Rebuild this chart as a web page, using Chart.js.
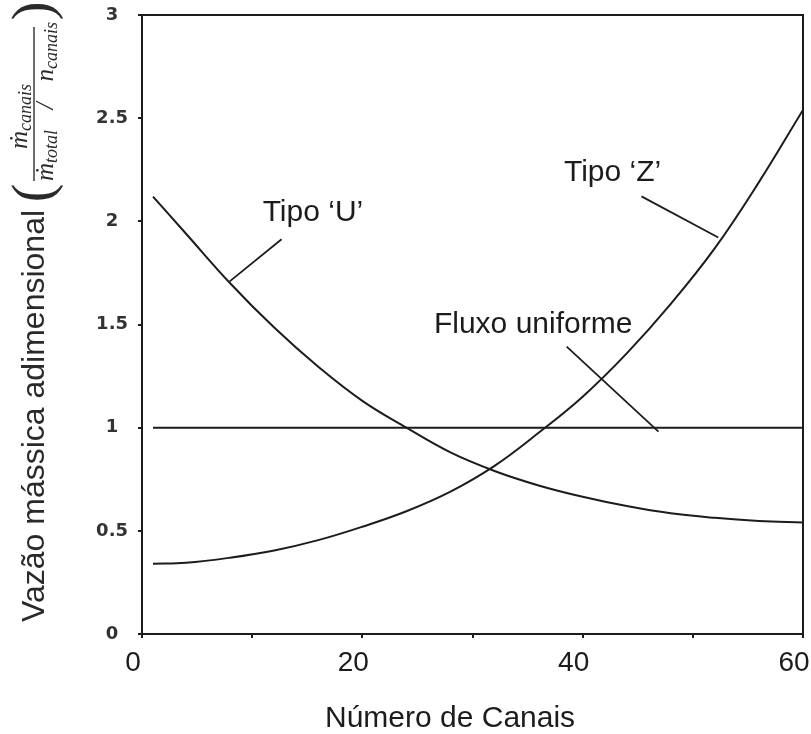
<!DOCTYPE html>
<html>
<head>
<meta charset="utf-8">
<script src="https://cdn.jsdelivr.net/npm/chart.js"></script>
<style>
  body { margin: 0; background: #fff; }
  #wrap { width: 811px; height: 734px; }
</style>
</head>
<body>
<div id="wrap"><canvas id="myChart"></canvas></div>
<script>
  // values
  const canais = [1, 4, 8, 12, 16, 20, 24, 28, 32, 36, 40, 44, 48, 52, 56, 60]
  const tipoU = [2.12, 1.94, 1.70, 1.485, 1.295, 1.13, 1.0, 0.88, 0.79, 0.72, 0.665, 0.62, 0.585, 0.563, 0.548, 0.54]
  const tipoZ = [0.34, 0.345, 0.37, 0.405, 0.455, 0.52, 0.595, 0.69, 0.815, 0.975, 1.15, 1.36, 1.60, 1.87, 2.19, 2.54]
  const uniformeX = [1, 60]
  const uniformeY = [1, 1]

  const xTicks = [0, 10, 20, 30, 40, 50, 60]
  const xLabeled = [0, 20, 40, 60]
  const yTicks = [0, 0.5, 1, 1.5, 2, 2.5, 3]

  // curve labels and their pointer lines (data units)
  const notes = [
    { text: 'Tipo ‘U’', at: [10.95, 2.0], from: [12.67, 1.913], to: [7.96, 1.709] },
    { text: 'Tipo ‘Z’', at: [38.3, 2.194], from: [45.34, 2.121], to: [52.31, 1.922] },
    { text: 'Fluxo uniforme', at: [26.5, 1.461], from: [38.55, 1.393], to: [46.88, 0.981] }
  ]

  const ink = '#1c1c1c'
  const pts = (xs, ys) => xs.map((x, i) => ({ x: x, y: ys[i] }))

  let datasets = [
    { label: 'Tipo U', data: pts(canais, tipoU), tension: 0.4 },
    { label: 'Tipo Z', data: pts(canais, tipoZ), tension: 0.4 },
    { label: 'Fluxo uniforme', data: pts(uniformeX, uniformeY) }
  ]
  notes.forEach(n => datasets.push({
    label: n.text + ' ptr',
    data: [{ x: n.from[0], y: n.from[1] }, { x: n.to[0], y: n.to[1] }],
    borderWidth: 1.8
  }))
  datasets.forEach(d => {
    d.type = 'line'
    d.borderColor = ink
    d.borderWidth = d.borderWidth || 2
    d.pointRadius = 0
    d.fill = false
  })

  const extras = {
    id: 'extras',
    afterDraw(chart) {
      const { ctx, chartArea: a, scales } = chart
      ctx.save()
      // box top and right
      ctx.strokeStyle = ink
      ctx.lineWidth = 2
      ctx.beginPath()
      ctx.moveTo(a.left, a.top)
      ctx.lineTo(a.right, a.top)
      ctx.lineTo(a.right, a.bottom)
      ctx.stroke()

      ctx.fillStyle = ink
      ctx.textBaseline = 'alphabetic'
      ctx.textAlign = 'left'
      ctx.font = '30px "Liberation Sans", Arial, sans-serif'
      notes.forEach(n => ctx.fillText(n.text, scales.x.getPixelForValue(n.at[0]), scales.y.getPixelForValue(n.at[1])))

      // x title
      ctx.fillText('Número de Canais', 325, 727)

      // y title, rotated
      ctx.rotate(-Math.PI / 2)
      ctx.fillStyle = '#2a2a2a'
      ctx.font = '32px "Liberation Sans", Arial, sans-serif'
      ctx.fillText('Vazão mássica adimensional', -622, 44)

      const big = 'italic 25px "Liberation Serif", "DejaVu Serif", serif'
      const small = 'italic 18px "Liberation Serif", "DejaVu Serif", serif'
      // numerator
      ctx.font = big
      ctx.fillText('ṁ', -149, 27)
      let w = ctx.measureText('ṁ').width
      ctx.font = small
      ctx.fillText('canais', -149 + w, 31)
      // denominator
      ctx.font = big
      ctx.fillText('ṁ', -181, 53)
      w = ctx.measureText('ṁ').width
      ctx.font = small
      ctx.fillText('total', -181 + w, 57)
      let endTotal = -181 + w + ctx.measureText('total').width
      let ws = ctx.measureText('canais').width
      ctx.fillText('canais', -22 - ws, 57)
      ctx.font = big
      let wn = ctx.measureText('n').width
      ctx.fillText('n', -22 - ws - wn, 53)
      ctx.textAlign = 'center'
      ctx.fillText('/', (endTotal + (-22 - ws - wn)) / 2, 53)
      // fraction bar
      ctx.lineWidth = 1.3
      ctx.beginPath()
      ctx.moveTo(-181, 34)
      ctx.lineTo(-27, 34)
      ctx.stroke()
      // parentheses
      ctx.font = '56px "Liberation Serif", serif'
      ctx.fillText('(', -193, 51)
      ctx.fillText(')', -11, 51)
      ctx.restore()
    }
  }

  const ctx = document.getElementById('myChart')
  new Chart(ctx, {
    type: 'line',
    data: { datasets: datasets },
    plugins: [extras],
    options: {
      responsive: true,
      maintainAspectRatio: false,
      animation: false,
      layout: { padding: { left: 70, top: 15, right: 8, bottom: 0 } },
      plugins: {
        legend: { display: false },
        tooltip: { enabled: false },
        title: { display: false }
      },
      scales: {
        x: {
          type: 'linear',
          min: 0,
          max: 60,
          afterFit: s => { s.height = 100; s.paddingLeft = 0; s.paddingRight = 0 },
          afterBuildTicks: s => { s.ticks = xTicks.map(v => ({ value: v })) },
          grid: { drawOnChartArea: false, tickLength: 4, color: ink, lineWidth: 2 },
          border: { color: ink, width: 2 },
          ticks: {
            color: ink,
            padding: 8,
            labelOffset: -9,
            maxRotation: 0,
            autoSkip: false,
            font: { family: '"Liberation Sans Narrow", "Liberation Sans", sans-serif', size: 28 },
            callback: v => xLabeled.includes(v) ? String(v) : ''
          }
        },
        y: {
          type: 'linear',
          min: 0,
          max: 3,
          afterFit: s => { s.width = 72; s.paddingTop = 0; s.paddingBottom = 0 },
          afterBuildTicks: s => { s.ticks = yTicks.map(v => ({ value: v })) },
          grid: { drawOnChartArea: false, tickLength: 4, color: ink, lineWidth: 2 },
          border: { color: ink, width: 2 },
          ticks: {
            color: '#333',
            padding: 10,
            crossAlign: 'center',
            font: { family: '"DejaVu Sans", sans-serif', size: 18, weight: 'bold' },
            callback: v => String(v)
          }
        }
      }
    }
  })
</script>
</body>
</html>
